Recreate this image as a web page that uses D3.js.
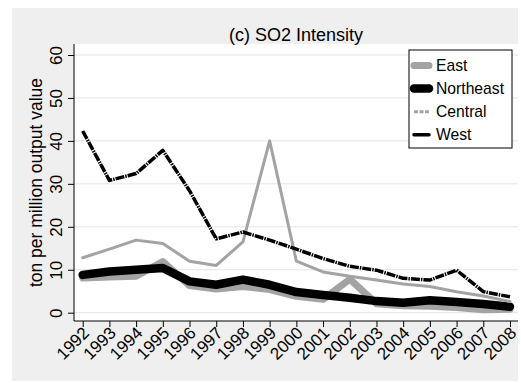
<!DOCTYPE html>
<html>
<head>
<meta charset="utf-8">
<script src="https://cdn.jsdelivr.net/npm/d3@7"></script>
<style>
  html, body { margin: 0; padding: 0; background: #ffffff; }
  svg text { font-family: "Liberation Sans", Arial, Helvetica, sans-serif; fill: #000; }
</style>
</head>
<body>
<svg id="chart" width="521" height="383"></svg>
<script>
// Regional SO2 intensity, 1992-2008 (ton per million output value)
const years = [1992, 1993, 1994, 1995, 1996, 1997, 1998, 1999, 2000, 2001, 2002, 2003, 2004, 2005, 2006, 2007, 2008];
const east      = [8.1, 8.3, 8.5, 11.9, 6.3, 5.5, 6.1, 5.4, 3.8, 3.1, 7.8, 2.1, 1.6, 1.5, 1.2, 0.7, 0.8];
const northeast = [8.8, 9.6, 10.0, 10.4, 7.3, 6.5, 7.7, 6.5, 4.8, 4.1, 3.5, 2.7, 2.3, 2.9, 2.5, 2.0, 1.4];
const central   = [12.8, 14.8, 16.9, 16.1, 12.0, 11.0, 16.5, 40.0, 12.0, 9.5, 8.5, 7.6, 6.7, 6.1, 4.9, 3.9, 2.6];
const west      = [42.3, 30.8, 32.4, 37.8, 28.4, 17.2, 18.8, 16.9, 14.8, 12.6, 10.8, 9.9, 8.0, 7.6, 9.9, 4.9, 3.7];
const yTicks = [0, 10, 20, 30, 40, 50, 60];
const seriesNames = ["East", "Northeast", "Central", "West"];

const svg = d3.select("#chart");

// outer graph region
svg.append("rect").attr("x", 12).attr("y", 8).attr("width", 506).attr("height", 373).attr("fill", "#efefef");

// plot region
const plot = { left: 74, right: 518, top: 44, bottom: 321 };
svg.append("rect")
  .attr("x", plot.left).attr("y", plot.top)
  .attr("width", plot.right - plot.left).attr("height", plot.bottom - plot.top)
  .attr("fill", "#ffffff");

const x = d3.scaleLinear().domain([1992, 2008]).range([82.7, 510]);
const y = d3.scaleLinear().domain([0, 60]).range([312.7, 55]);

// horizontal grid
svg.append("g").selectAll("line").data(yTicks).join("line")
  .attr("x1", plot.left).attr("x2", plot.right)
  .attr("y1", d => y(d)).attr("y2", d => y(d))
  .attr("stroke", "#e4e4e4").attr("stroke-width", 1);

// y axis
const yAxis = svg.append("g").attr("transform", `translate(${plot.left},0)`)
  .call(d3.axisLeft(y).tickValues(yTicks).tickSize(6).tickSizeOuter(0));
yAxis.select(".domain").remove();
yAxis.append("line").attr("x1", 0).attr("x2", 0).attr("y1", plot.top).attr("y2", plot.bottom).attr("stroke", "#000");
yAxis.selectAll(".tick line").attr("stroke", "#000");
yAxis.selectAll(".tick text")
  .attr("font-size", 17)
  .attr("text-anchor", "middle")
  .attr("transform", "rotate(-90)")
  .attr("x", 0).attr("y", -12).attr("dy", 0);

// x axis
const xAxis = svg.append("g").attr("transform", `translate(0,${plot.bottom})`)
  .call(d3.axisBottom(x).tickValues(years).tickFormat(d3.format("d")).tickSize(6).tickSizeOuter(0));
xAxis.select(".domain").remove();
xAxis.append("line").attr("x1", plot.left).attr("x2", plot.right).attr("y1", 0).attr("y2", 0).attr("stroke", "#000");
xAxis.selectAll(".tick line").attr("stroke", "#000");
xAxis.selectAll(".tick text")
  .attr("font-size", 17)
  .attr("text-anchor", "end")
  .attr("x", 0).attr("y", 0).attr("dy", 0)
  .attr("transform", "translate(7,13) rotate(-45)");

// axis title
svg.append("text")
  .attr("transform", `translate(42,${(plot.top + plot.bottom) / 2}) rotate(-90)`)
  .attr("text-anchor", "middle")
  .attr("font-size", 17.5)
  .text("ton per million output value");

// chart title
svg.append("text")
  .attr("x", (plot.left + plot.right) / 2).attr("y", 40.5)
  .attr("text-anchor", "middle")
  .attr("font-size", 18)
  .text("(c) SO2 Intensity");

// series
const styles = {
  East:      { data: east,      color: "#a3a3a3", width: 7,   dash: null },
  Northeast: { data: northeast, color: "#000000", width: 8.5, dash: null },
  Central:   { data: central,   color: "#a3a3a3", width: 3,   dash: null },
  West:      { data: west,      color: "#000000", width: 3.5, dash: "9,1,1.5,1" }
};

const line = d3.line().x((d, i) => x(years[i])).y(d => y(d));

seriesNames.forEach(name => {
  const s = styles[name];
  svg.append("path")
    .datum(s.data)
    .attr("d", line)
    .attr("fill", "none")
    .attr("stroke", s.color)
    .attr("stroke-width", s.width)
    .attr("stroke-linejoin", "round")
    .attr("stroke-linecap", s.dash ? "butt" : "round")
    .attr("stroke-dasharray", s.dash);
});

// legend
const legend = svg.append("g");
legend.append("rect")
  .attr("x", 409).attr("y", 50).attr("width", 103).attr("height", 98)
  .attr("fill", "#ffffff").attr("stroke", "#000").attr("stroke-width", 1);

const legendDash = { East: null, Northeast: null, Central: "4,1.5", West: null };
seriesNames.forEach((name, i) => {
  const s = styles[name];
  const cy = 65.5 + i * 23.1;
  legend.append("line")
    .attr("x1", 414).attr("x2", 429).attr("y1", cy).attr("y2", cy)
    .attr("stroke", s.color)
    .attr("stroke-width", name === "West" ? 3.5 : s.width)
    .attr("stroke-linecap", name === "Central" ? "butt" : "round")
    .attr("stroke-dasharray", legendDash[name]);
  legend.append("text")
    .attr("x", 436).attr("y", cy + 5.5)
    .attr("font-size", 15.7)
    .text(name);
});
</script>
</body>
</html>
